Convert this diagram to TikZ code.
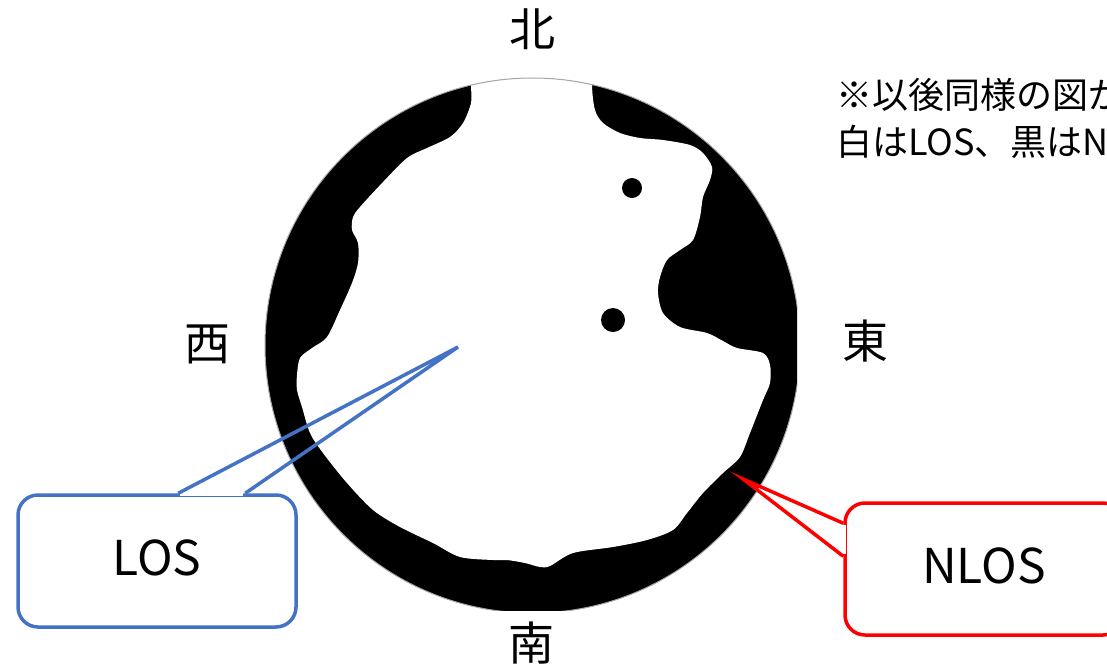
\documentclass[tikz,border=0pt]{standalone}
\usepackage{fontspec}
\setmainfont{Noto Sans CJK JP}
\usetikzlibrary{calc}
\definecolor{losblue}{HTML}{4472C4}
\definecolor{nlosred}{HTML}{FF0000}
\begin{document}
\begin{tikzpicture}[x=1pt,y=-1pt,
  dirlabel/.style={font=\fontsize{46}{46}\selectfont, anchor=base, inner sep=0pt},
  notetext/.style={font=\fontsize{36}{36}\selectfont, anchor=base west, inner sep=0pt},
  callbox/.style={rounded corners=20pt, line width=3.5pt, fill=white, minimum width=278pt, minimum height=132pt, font=\fontsize{48}{48}\selectfont, text height=35pt, text depth=7pt, inner sep=0pt},
  losbox/.style={callbox, draw=losblue},
  nlosbox/.style={callbox, draw=nlosred},
  losline/.style={draw=losblue, line width=3.5pt},
  nlosline/.style={draw=nlosred, line width=3.5pt},
]
\useasboundingbox (0,0) rectangle (1107,665);
\clip (0,0) rectangle (1107,665);
\fill[white] (0,0) rectangle (1107,665);

% sky-view disc
\begin{scope}
  \clip (255,60) rectangle (797,610);
  \begin{scope}
    \clip (532.5,345.5) circle (267.5);
    \fill[black] (255,60) rectangle (805,620);
    \fill[white] plot[smooth cycle, tension=0.5] coordinates {
      (470,55) (471,86) (471,103) (463,123) (450,137) (427,148) (407,158)
      (383,182) (360,207) (353,217) (352,230) (358,243) (358,263) (352,283)
      (340,310) (327,337) (312,348) (300,358) (297,375) (297,390) (302,407)
      (310,433) (323,453) (347,483) (373,510) (400,527) (433,543) (460,557)
      (493,560) (507,560) (525,563) (540,567) (550,566) (573,553) (613,547)
      (647,540) (673,530) (687,513) (703,493) (723,473) (740,457) (750,433)
      (763,400) (770,383) (770,365) (763,353) (737,348) (723,341) (707,333)
      (680,327) (663,313) (658,293) (660,277) (667,260) (680,250) (693,240)
      (700,217) (703,197) (710,180) (712,167) (703,153) (690,145) (663,140)
      (640,138) (620,133) (603,123) (595,110) (592,87) (592,55)};
    \fill[black] (632,188) circle (10);
    \fill[black] (613,320) circle (12);
  \end{scope}
  \draw[black!35, line width=1pt] (532.5,345.5) circle (267.5);
\end{scope}

% compass labels
\node[dirlabel] (north) at (532,46.5) {北};
\node[dirlabel] (west) at (207,360.5) {西};
\node[dirlabel] (east) at (865,358.5) {東};
\node[dirlabel] (south) at (531,660.5) {南};

% note (cut off by the right edge, as in the reference)
\node[notetext] (note1) at (836,108) {※以後同様の図が};
\node[notetext] (note2) at (836,155) {白はLOS、黒はNLOS};

% LOS callout
\node[losbox] (los) at (157,561) {LOS};
\coordinate (lostip) at (458,347);
\coordinate (losb1) at ($(los.north west)+(162,0)$);
\coordinate (losb2) at ($(los.north west)+(229,0)$);
\draw[white, line width=5.5pt] ($(losb1)+(1.8,0)$) -- ($(losb2)+(-1.8,0)$);
\draw[losline] (losb1) -- (lostip) -- (losb2);

% NLOS callout
\node[nlosbox] (nlos) at (984,569) {NLOS};
\coordinate (nlostip) at (743,479);
\coordinate (nlosb1) at ($(nlos.north west)+(0,22)$);
\coordinate (nlosb2) at ($(nlos.north west)+(0,55)$);
\draw[white, line width=5.5pt] ($(nlosb1)+(0,1.8)$) -- ($(nlosb2)+(0,-1.8)$);
\draw[nlosline] (nlosb1) -- (nlostip) -- (nlosb2);
\end{tikzpicture}
\end{document}
